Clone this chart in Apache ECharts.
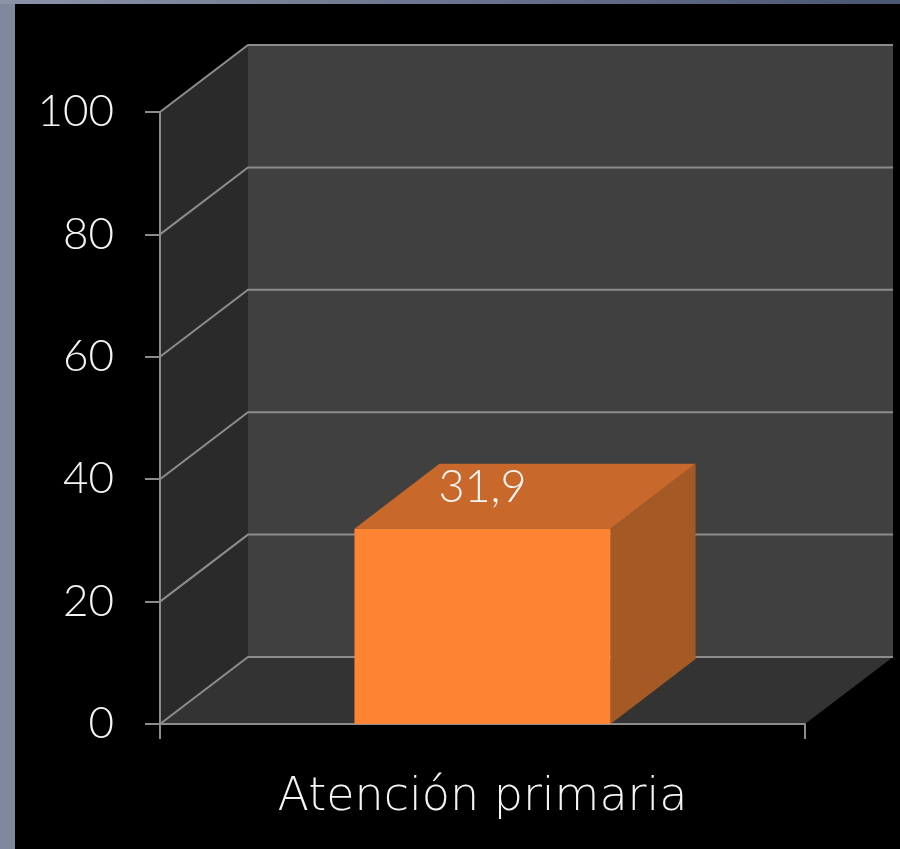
<!DOCTYPE html>
<html>
<head>
<meta charset="utf-8">
<title>Atención primaria</title>
<script src="https://cdn.jsdelivr.net/npm/echarts@6/dist/echarts.min.js"></script>
<style>
  html, body { margin: 0; padding: 0; background: #000; }
  #chart { width: 900px; height: 849px; }
</style>
</head>
<body>
<div id="chart"></div>
<script>
// Chart data
const categories = ['Atención primaria'];
const values = [31.9];
const valueLabels = ['31,9'];
const yTickValues = [0, 20, 40, 60, 80, 100];

// 3D look: pixel offset of the back plane
const WALL_DX = 88, WALL_DY = 67;
const BAR_DX = 85, BAR_DY = 65;
const GRID_COLOR = '#8c8c8c';
const FONT = 'Lato, "Noto Sans", sans-serif';
const WIDE_FONT = '"DejaVu Sans", Lato, sans-serif';

const chart = echarts.init(document.getElementById('chart'), null, { renderer: 'canvas' });

function renderWalls(params, api) {
  const cs = params.coordSys;
  const L = cs.x, R = cs.x + cs.width;
  const yTop = api.coord([0, 100])[1];
  const yBot = api.coord([0, 0])[1];
  const children = [
    { type: 'polygon', shape: { points: [[L, yTop], [L + WALL_DX, yTop - WALL_DY], [L + WALL_DX, yBot - WALL_DY], [L, yBot]] },
      style: { fill: '#2a2a2a' } },
    { type: 'rect', shape: { x: L + WALL_DX, y: yTop - WALL_DY, width: R - L, height: yBot - yTop },
      style: { fill: '#404040' } },
    { type: 'polygon', shape: { points: [[L, yBot], [L + WALL_DX, yBot - WALL_DY], [R + WALL_DX, yBot - WALL_DY], [R, yBot]] },
      style: { fill: '#333333' } }
  ];
  yTickValues.forEach(v => {
    const y = api.coord([0, v])[1];
    children.push({ type: 'polyline',
      shape: { points: [[L, y], [L + WALL_DX, y - WALL_DY], [R + WALL_DX, y - WALL_DY]] },
      style: { stroke: GRID_COLOR, lineWidth: 2, fill: null } });
  });
  return { type: 'group', children };
}

function renderBar(params, api) {
  const idx = api.value(0);
  const top = api.coord([idx, api.value(1)]);
  const bot = api.coord([idx, 0]);
  const bw = api.size([1, 0])[0] * 0.397;
  const x0 = top[0] - bw / 2, x1 = top[0] + bw / 2;
  const yt = top[1], yb = bot[1];
  return {
    type: 'group',
    children: [
      { type: 'polygon', shape: { points: [[x1, yt], [x1 + BAR_DX, yt - BAR_DY], [x1 + BAR_DX, yb - BAR_DY], [x1, yb]] },
        style: { fill: '#a55a25' } },
      { type: 'polygon', shape: { points: [[x0, yt], [x0 + BAR_DX, yt - BAR_DY], [x1 + BAR_DX, yt - BAR_DY], [x1, yt]] },
        style: { fill: '#c8692b' } },
      { type: 'rect', shape: { x: x0, y: yt, width: bw, height: yb - yt },
        style: { fill: '#fd8433' } },
      { type: 'text', x: top[0], y: yt - 41,
        style: { text: valueLabels[params.dataIndex], fill: '#f4f4f4', fontSize: 45, fontFamily: FONT,
                 fontWeight: 300, align: 'center', verticalAlign: 'middle' } }
    ]
  };
}

const option = {
  backgroundColor: '#000',
  animation: false,
  graphic: [
    { type: 'rect', left: 0, top: 0, shape: { width: 15, height: 849 }, style: { fill: '#7f899e' }, z: 100 },
    { type: 'rect', left: 0, top: 0, shape: { width: 900, height: 4 },
      style: { fill: new echarts.graphic.LinearGradient(0, 0, 1, 0, [
        { offset: 0, color: '#8a93a8' }, { offset: 1, color: '#4b5671' }]) }, z: 100 }
  ],
  grid: { left: 160, right: 95, top: 112, bottom: 125 },
  xAxis: {
    type: 'category',
    data: categories,
    z: 1,
    axisLine: { show: true, lineStyle: { color: GRID_COLOR, width: 2 } },
    axisTick: { show: true, length: 15, lineStyle: { color: GRID_COLOR, width: 2 } },
    axisLabel: { color: '#f4f4f4', fontSize: 46, fontFamily: WIDE_FONT, fontWeight: 200, margin: 51 },
    splitLine: { show: false }
  },
  yAxis: {
    type: 'value',
    min: 0, max: 100, interval: 20,
    z: 1,
    axisLine: { show: true, lineStyle: { color: GRID_COLOR, width: 2 } },
    axisTick: { show: true, length: 15, lineStyle: { color: GRID_COLOR, width: 2 } },
    axisLabel: { color: '#f4f4f4', fontSize: 44, fontFamily: FONT, fontWeight: 300, margin: 46 },
    splitLine: { show: false }
  },
  series: [
    { type: 'custom', name: 'walls', z: 0, silent: true, renderItem: renderWalls, data: [[0]] },
    { type: 'custom', name: 'valor', z: 3, renderItem: renderBar,
      data: values.map((v, i) => [i, v]) }
  ]
};

chart.setOption(option);
</script>
</body>
</html>
